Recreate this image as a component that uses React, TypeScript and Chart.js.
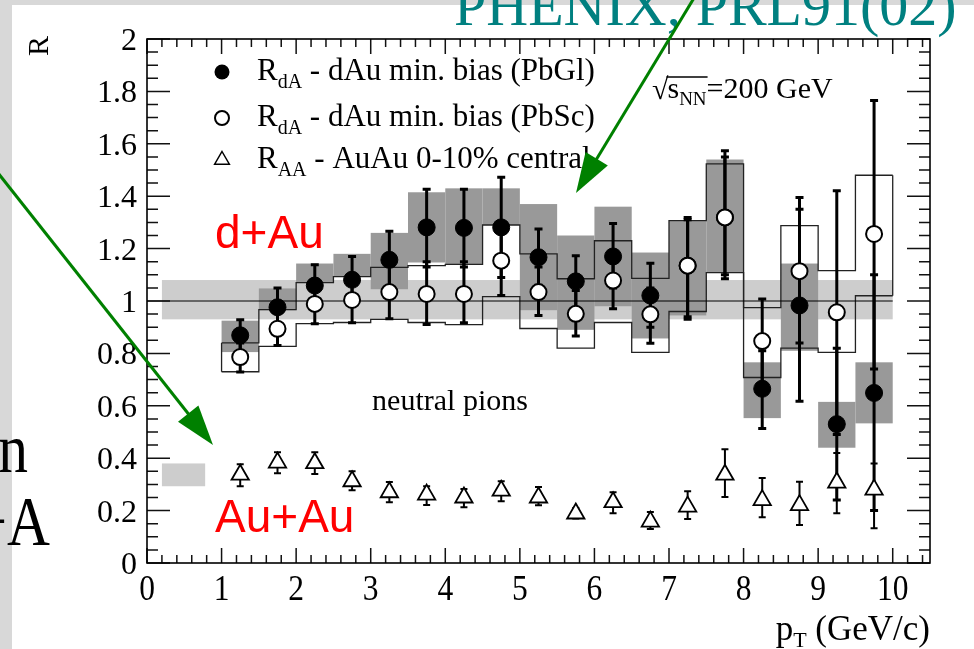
import React, { useEffect, useRef } from "react";
import { Chart, registerables } from "chart.js";

Chart.register(...registerables);

// ---------------- data ----------------
const ptBins = [1.25, 1.75, 2.25, 2.75, 3.25, 3.75, 4.25, 4.75, 5.25, 5.75, 6.25, 6.75, 7.25, 7.75, 8.25, 8.75, 9.25, 9.75];
const binHalfWidth = 0.25;

// R_dA, PbGl (filled circles)
const rdAPbGl = [0.869, 0.976, 1.059, 1.081, 1.157, 1.281, 1.279, 1.281, 1.167, 1.075, 1.17, 1.021, 1.135, 1.319, 0.665, 0.983, 0.53, 0.649];
const rdAPbGlErrLo = [0.81, 0.9, 0.98, 0.99, 1.05, 1.13, 1.13, 1.09, 1.06, 0.97, 1.05, 0.9, 0.93, 1.085, 0.513, 0.617, 0.24, 0.2];
const rdAPbGlErrHi = [0.928, 1.05, 1.138, 1.17, 1.266, 1.427, 1.427, 1.472, 1.275, 1.173, 1.296, 1.144, 1.319, 1.573, 0.81, 1.35, 0.82, 1.1];
const rdAPbGlSysLo = [0.805, 0.965, 1.07, 1.093, 1.045, 1.147, 1.14, 1.29, 0.965, 0.89, 0.98, 0.857, 0.945, 1.11, 0.553, 0.81, 0.44, 0.533];
const rdAPbGlSysHi = [0.925, 1.048, 1.143, 1.18, 1.26, 1.415, 1.43, 1.43, 1.37, 1.25, 1.36, 1.185, 1.305, 1.54, 0.766, 1.143, 0.615, 0.766];

// R_dA, PbSc (open circles)
const rdAPbSc = [0.786, 0.894, 0.989, 1.004, 1.034, 1.027, 1.027, 1.154, 1.034, 0.951, 1.078, 0.949, 1.135, 1.319, 0.847, 1.114, 0.957, 1.256];
const rdAPbScErrLo = [0.729, 0.83, 0.913, 0.917, 0.932, 0.91, 0.917, 1.021, 0.945, 0.866, 0.97, 0.839, 0.94, 1.1, 0.68, 0.84, 0.49, 0.74];
const rdAPbScErrHi = [0.84, 0.96, 1.06, 1.09, 1.14, 1.15, 1.15, 1.29, 1.13, 1.04, 1.18, 1.05, 1.31, 1.55, 1.008, 1.395, 1.421, 1.765];
const rdAPbScSysLo = [0.73, 0.827, 0.914, 0.918, 0.93, 0.918, 0.91, 1.017, 0.895, 0.82, 0.918, 0.804, 0.96, 1.108, 0.708, 0.82, 0.804, 1.02];
const rdAPbScSysHi = [0.84, 0.967, 1.07, 1.093, 1.128, 1.135, 1.14, 1.29, 1.18, 1.085, 1.23, 1.086, 1.307, 1.523, 0.975, 1.288, 1.116, 1.48];

// R_AA, AuAu 0-10% central (open triangles)
const rAAAuAu = [0.337, 0.383, 0.381, 0.312, 0.27, 0.261, 0.25, 0.276, 0.25, 0.189, 0.232, 0.158, 0.215, 0.337, 0.24, 0.221, 0.307, 0.28];
const rAAErrLo = [0.293, 0.343, 0.34, 0.278, 0.232, 0.221, 0.213, 0.236, 0.22, 0.17, 0.19, 0.13, 0.168, 0.252, 0.175, 0.145, 0.19, 0.133];
const rAAErrHi = [0.377, 0.423, 0.423, 0.35, 0.309, 0.293, 0.282, 0.312, 0.29, 0.21, 0.27, 0.195, 0.274, 0.434, 0.324, 0.31, 0.42, 0.38];

// normalisation bands: [x from, x to, lo, hi]
const dAuNormBand = [0.2, 10.0, 0.93, 1.08];
const auAuNormBand = [0.2, 0.78, 0.293, 0.38];
const unityLine = [0, 10, 1];

// axes
const xTickValues = [0, 1, 2, 3, 4, 5, 6, 7, 8, 9, 10];
const xTickLabels = ["0", "1", "2", "3", "4", "5", "6", "7", "8", "9", "10"];
const yTickValues = [0, 0.2, 0.4, 0.6, 0.8, 1, 1.2, 1.4, 1.6, 1.8, 2];
const yTickLabels = ["0", "0.2", "0.4", "0.6", "0.8", "1", "1.2", "1.4", "1.6", "1.8", "2"];
const xMinorStep = 0.2;
const yMinorStep = 0.05;

// ---------------- styling ----------------
const SERIF = '"Liberation Serif", "DejaVu Serif", serif';
const SANS = '"Liberation Sans", Arial, sans-serif';
const LIGHT = "#cdcdcd";
const DARK = "#999999";
const GREEN = "#008000";

type Part = { t: string; size: number; dy?: number };

function richWidth(ctx: CanvasRenderingContext2D, parts: Part[], family: string) {
  let w = 0;
  for (const p of parts) {
    ctx.font = `${p.size}px ${family}`;
    w += ctx.measureText(p.t).width;
  }
  return w;
}

function drawRich(ctx: CanvasRenderingContext2D, x: number, y: number, parts: Part[], color: string, family = SERIF) {
  let cx = x;
  ctx.fillStyle = color;
  ctx.textAlign = "left";
  ctx.textBaseline = "alphabetic";
  for (const p of parts) {
    ctx.font = `${p.size}px ${family}`;
    ctx.fillText(p.t, cx, y + (p.dy || 0));
    cx += ctx.measureText(p.t).width;
  }
  return cx;
}

function drawText(ctx: CanvasRenderingContext2D, s: string, x: number, y: number, font: string, color: string, align: CanvasTextAlign, sx = 1) {
  ctx.save();
  ctx.font = font;
  ctx.fillStyle = color;
  ctx.textAlign = align;
  ctx.textBaseline = "alphabetic";
  ctx.translate(x, y);
  ctx.scale(sx, 1);
  ctx.fillText(s, 0, 0);
  ctx.restore();
}

function drawArrow(ctx: CanvasRenderingContext2D, x0: number, y0: number, x1: number, y1: number) {
  const dx = x1 - x0, dy = y1 - y0, L = Math.hypot(dx, dy);
  const ux = dx / L, uy = dy / L;
  const hl = 40, hw = 13;
  const bx = x1 - ux * hl, by = y1 - uy * hl;
  ctx.save();
  ctx.strokeStyle = GREEN;
  ctx.lineWidth = 3;
  ctx.beginPath();
  ctx.moveTo(x0, y0);
  ctx.lineTo(bx + ux * 4, by + uy * 4);
  ctx.stroke();
  ctx.fillStyle = GREEN;
  ctx.beginPath();
  ctx.moveTo(x1, y1);
  ctx.lineTo(bx - uy * hw, by + ux * hw);
  ctx.lineTo(bx + uy * hw, by - ux * hw);
  ctx.closePath();
  ctx.fill();
  ctx.restore();
}

function legendMarker(ctx: CanvasRenderingContext2D, kind: string, x: number, y: number) {
  ctx.save();
  ctx.lineWidth = 2;
  ctx.strokeStyle = "#000";
  ctx.beginPath();
  if (kind === "filled") {
    ctx.arc(x, y, 7.5, 0, Math.PI * 2);
    ctx.fillStyle = "#000";
    ctx.fill();
  } else if (kind === "open") {
    ctx.arc(x, y, 7, 0, Math.PI * 2);
    ctx.fillStyle = "#fff";
    ctx.fill();
    ctx.stroke();
  } else {
    const r = 8.5;
    ctx.moveTo(x, y - r);
    ctx.lineTo(x + r * 0.866, y + r * 0.5);
    ctx.lineTo(x - r * 0.866, y + r * 0.5);
    ctx.closePath();
    ctx.lineWidth = 1.5;
    ctx.stroke();
  }
  ctx.restore();
}

const physicsPlugin = {
  id: "physicsPlot",
  beforeDraw(chart: any) {
    const ctx: CanvasRenderingContext2D = chart.ctx;
    ctx.save();
    ctx.fillStyle = "#d8d8d8";
    ctx.fillRect(0, 0, chart.width, chart.height);
    ctx.fillStyle = "#ffffff";
    ctx.fillRect(12, 5, chart.width - 12, chart.height - 5);
    ctx.restore();
  },
  beforeDatasetsDraw(chart: any) {
    const ctx: CanvasRenderingContext2D = chart.ctx;
    const ca = chart.chartArea;
    const xs = chart.scales.x;
    const ys = chart.scales.y;
    const px = (v: number) => xs.getPixelForValue(v);
    const py = (v: number) => ys.getPixelForValue(v);
    ctx.save();
    ctx.beginPath();
    ctx.rect(ca.left, ca.top, ca.right - ca.left, ca.bottom - ca.top);
    ctx.clip();

    const box = (x0: number, x1: number, lo: number, hi: number, color: string) => {
      ctx.fillStyle = color;
      ctx.fillRect(px(x0), py(hi), px(x1) - px(x0), py(lo) - py(hi));
    };

    // normalisation bands
    box(dAuNormBand[0], dAuNormBand[1], dAuNormBand[2], dAuNormBand[3], LIGHT);
    box(auAuNormBand[0], auAuNormBand[1], auAuNormBand[2], auAuNormBand[3], LIGHT);

    // PbGl systematic boxes
    ptBins.forEach((c, i) => box(c - binHalfWidth, c + binHalfWidth, rdAPbGlSysLo[i], rdAPbGlSysHi[i], DARK));

    // PbSc systematic outline (step histograms)
    ctx.strokeStyle = "#222";
    ctx.lineWidth = 1.3;
    const step = (vals: number[]) => {
      ctx.beginPath();
      ptBins.forEach((c, i) => {
        const xa = px(c - binHalfWidth), xb = px(c + binHalfWidth), yy = py(vals[i]);
        if (i === 0) ctx.moveTo(xa, yy);
        else ctx.lineTo(xa, yy);
        ctx.lineTo(xb, yy);
      });
      ctx.stroke();
    };
    step(rdAPbScSysHi);
    step(rdAPbScSysLo);
    const n = ptBins.length - 1;
    ctx.beginPath();
    ctx.moveTo(px(ptBins[0] - binHalfWidth), py(rdAPbScSysLo[0]));
    ctx.lineTo(px(ptBins[0] - binHalfWidth), py(rdAPbScSysHi[0]));
    ctx.moveTo(px(ptBins[n] + binHalfWidth), py(rdAPbScSysLo[n]));
    ctx.lineTo(px(ptBins[n] + binHalfWidth), py(rdAPbScSysHi[n]));
    ctx.stroke();

    // unity line
    ctx.strokeStyle = "#000";
    ctx.lineWidth = 1.2;
    ctx.beginPath();
    ctx.moveTo(px(unityLine[0]), py(unityLine[2]));
    ctx.lineTo(px(unityLine[1]), py(unityLine[2]));
    ctx.stroke();

    // error bars
    const errs = (lo: number[], hi: number[], w: number, cap: number) => {
      ctx.strokeStyle = "#000";
      ctx.lineWidth = w;
      ptBins.forEach((c, i) => {
        const xx = px(c), a = py(lo[i]), b = py(hi[i]);
        ctx.beginPath();
        ctx.moveTo(xx, a);
        ctx.lineTo(xx, b);
        ctx.moveTo(xx - cap, a);
        ctx.lineTo(xx + cap, a);
        ctx.moveTo(xx - cap, b);
        ctx.lineTo(xx + cap, b);
        ctx.stroke();
      });
    };
    errs(rAAErrLo, rAAErrHi, 2, 3.5);
    errs(rdAPbGlErrLo, rdAPbGlErrHi, 3, 4);
    errs(rdAPbScErrLo, rdAPbScErrHi, 3, 4);
    ctx.restore();
  },
  afterDatasetsDraw(chart: any) {
    const ctx: CanvasRenderingContext2D = chart.ctx;
    const ca = chart.chartArea;
    const xs = chart.scales.x;
    const ys = chart.scales.y;
    const px = (v: number) => xs.getPixelForValue(v);
    const py = (v: number) => ys.getPixelForValue(v);
    ctx.save();

    // ticks (inside)
    ctx.strokeStyle = "#111";
    ctx.lineWidth = 1.5;
    ctx.beginPath();
    const xMax = xs.max, yMax = ys.max;
    for (let k = 0; k * xMinorStep <= xMax + 1e-9; k++) {
      const v = k * xMinorStep;
      const major = Math.abs(v - Math.round(v)) < 1e-6;
      const len = major ? 15 : 8;
      const xx = px(v);
      ctx.moveTo(xx, ca.bottom);
      ctx.lineTo(xx, ca.bottom - len);
      ctx.moveTo(xx, ca.top);
      ctx.lineTo(xx, ca.top + len);
    }
    for (let k = 0; k * yMinorStep <= yMax + 1e-9; k++) {
      const v = k * yMinorStep;
      const major = Math.abs(v / 0.2 - Math.round(v / 0.2)) < 1e-6;
      const len = major ? 23 : 11;
      const yy = py(v);
      ctx.moveTo(ca.left, yy);
      ctx.lineTo(ca.left + len, yy);
      ctx.moveTo(ca.right, yy);
      ctx.lineTo(ca.right - len, yy);
    }
    ctx.stroke();

    // frame
    ctx.strokeStyle = "#000";
    ctx.lineWidth = 1.6;
    ctx.strokeRect(ca.left, ca.top, ca.right - ca.left, ca.bottom - ca.top);

    // tick labels
    yTickValues.forEach((v, i) => drawText(ctx, yTickLabels[i], ca.left - 10, py(v) + 11, `32px ${SERIF}`, "#000", "right"));
    xTickValues.forEach((v, i) => drawText(ctx, xTickLabels[i], px(v), 600, `35px ${SERIF}`, "#000", "center", 0.9));

    // axis titles
    const ptParts: Part[] = [
      { t: "p", size: 35 },
      { t: "T", size: 22, dy: 7 },
      { t: " (GeV/c)", size: 35 },
    ];
    const wpt = richWidth(ctx, ptParts, SERIF);
    drawRich(ctx, ca.right - wpt, 640, ptParts, "#000");

    ctx.save();
    ctx.translate(40, 46);
    ctx.rotate(-Math.PI / 2);
    ctx.font = `30px ${SERIF}`;
    ctx.fillStyle = "#000";
    ctx.textAlign = "center";
    ctx.textBaseline = "middle";
    ctx.fillText("R", 0, 0);
    ctx.restore();

    // legend
    legendMarker(ctx, "filled", 222, 72);
    legendMarker(ctx, "open", 222, 118);
    legendMarker(ctx, "tri", 222, 160);
    drawRich(ctx, 257, 80, [
      { t: "R", size: 31 },
      { t: "dA", size: 20, dy: 8 },
      { t: " - dAu min. bias (PbGl)", size: 31 },
    ], "#000");
    drawRich(ctx, 257, 126, [
      { t: "R", size: 31 },
      { t: "dA", size: 20, dy: 8 },
      { t: " - dAu min. bias (PbSc)", size: 31 },
    ], "#000");
    drawRich(ctx, 257, 168, [
      { t: "R", size: 31 },
      { t: "AA", size: 20, dy: 8 },
      { t: " - AuAu 0-10% central", size: 31 },
    ], "#000");

    // sqrt(s_NN) = 200 GeV
    ctx.font = `30px ${SERIF}`;
    ctx.fillStyle = "#000";
    ctx.textAlign = "left";
    ctx.fillText("\u221A", 652, 99);
    const sx0 = 652 + ctx.measureText("\u221A").width - 1;
    const endS = drawRich(ctx, sx0, 98, [
      { t: "s", size: 30 },
      { t: "NN", size: 19, dy: 7 },
    ], "#000");
    ctx.strokeStyle = "#000";
    ctx.lineWidth = 1.4;
    ctx.beginPath();
    ctx.moveTo(sx0 - 1, 77);
    ctx.lineTo(endS + 1, 77);
    ctx.stroke();
    drawRich(ctx, endS, 98, [{ t: "=200 GeV", size: 30 }], "#000");

    // neutral pions
    drawText(ctx, "neutral pions", 450, 410, `30px ${SERIF}`, "#000", "center");

    // red labels
    drawText(ctx, "d+Au", 215, 248, `46px ${SANS}`, "#ff0000", "left");
    drawText(ctx, "Au+Au", 215, 532, `46px ${SANS}`, "#ff0000", "left");

    // slide texts
    drawText(ctx, "PHENIX, PRL91(02)", 454, 25, `58px ${SERIF}`, "#008080", "left");
    drawText(ctx, "n", 28, 472, `70px ${SERIF}`, "#000", "right", 0.85);
    drawText(ctx, "+A", 50, 545, `70px ${SERIF}`, "#000", "right", 0.85);

    // green arrows
    drawArrow(ctx, 694, -2, 576, 193);
    drawArrow(ctx, -2, 173, 213, 445);

    ctx.restore();
  },
};

export default function App() {
  const ref = useRef<HTMLCanvasElement>(null);
  useEffect(() => {
    if (!ref.current) return;
    const chart = new Chart(ref.current, {
      type: "scatter",
      data: {
        datasets: [
          {
            label: "RdA - dAu min. bias (PbSc)",
            data: ptBins.map((x, i) => ({ x, y: rdAPbSc[i] })),
            pointStyle: "circle",
            pointRadius: 8,
            pointBackgroundColor: "#ffffff",
            pointBorderColor: "#000000",
            pointBorderWidth: 2,
            order: 1,
          },
          {
            label: "RdA - dAu min. bias (PbGl)",
            data: ptBins.map((x, i) => ({ x, y: rdAPbGl[i] })),
            pointStyle: "circle",
            pointRadius: 8.5,
            pointBackgroundColor: "#000000",
            pointBorderColor: "#000000",
            pointBorderWidth: 1,
            order: 2,
          },
          {
            label: "RAA - AuAu 0-10% central",
            data: ptBins.map((x, i) => ({ x, y: rAAAuAu[i] })),
            pointStyle: "triangle",
            pointRadius: 10,
            pointBackgroundColor: "#ffffff",
            pointBorderColor: "#000000",
            pointBorderWidth: 1.8,
            order: 3,
          },
        ],
      },
      options: {
        responsive: false,
        animation: false,
        devicePixelRatio: 1,
        events: [],
        layout: { padding: { left: 147, right: 44, top: 39, bottom: 86 } },
        scales: {
          x: { type: "linear", min: 0, max: 10.5, display: false },
          y: { type: "linear", min: 0, max: 2, display: false },
        },
        plugins: { legend: { display: false }, tooltip: { enabled: false } },
      },
      plugins: [physicsPlugin],
    } as any);
    return () => chart.destroy();
  }, []);
  return (
    <div style={{ position: "absolute", left: 0, top: 0, width: 974, height: 649 }}>
      <canvas ref={ref} width={974} height={649} style={{ display: "block", width: 974, height: 649 }} />
    </div>
  );
}
